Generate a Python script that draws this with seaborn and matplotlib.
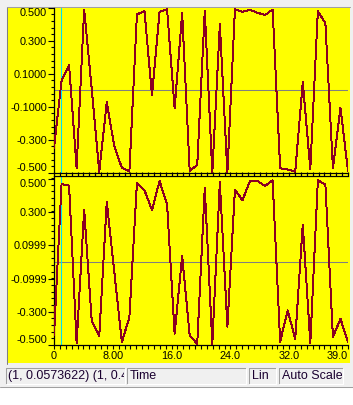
import numpy as np
import pandas as pd
import matplotlib
matplotlib.use("Agg")
import matplotlib.pyplot as plt
import seaborn as sns
from matplotlib.patches import Rectangle
from matplotlib.lines import Line2D
from matplotlib.ticker import FixedLocator, FixedFormatter, NullFormatter

# ---------------- data ----------------
n_samples = 40
time = np.linspace(0, 40, n_samples)
plot1 = [-0.35, 0.0573622, 0.153, -0.47, 0.49, 0.01, -0.493, -0.073, -0.34, -0.47,
         -0.493, 0.46, 0.48, -0.03, 0.476, 0.49, -0.11, 0.467, -0.487, -0.453,
         0.482, -0.50, 0.40, -0.50, 0.49, 0.476, 0.487, 0.47, 0.456, 0.49,
         -0.473, -0.48, -0.493, 0.048, -0.477, 0.48, 0.406, -0.473, -0.105, -0.49]
plot2 = [-0.44, 0.466, 0.458, -0.486, 0.314, -0.35, -0.445, 0.36, -0.06, -0.48,
         -0.33, 0.472, 0.43, 0.31, 0.485, 0.345, -0.43, 0.036, -0.44, -0.49,
         0.445, -0.49, 0.478, -0.387, 0.433, 0.37, 0.485, 0.485, 0.455, 0.489,
         -0.477, -0.29, -0.46, 0.225, -0.486, 0.489, 0.465, -0.45, -0.34, -0.48]
cursor_time = 1

x_major = [0, 8, 16, 24, 32, 40]
x_labels = ["0", "8.00", "16.0", "24.0", "32.0", "39.0"]
y1_ticks = [-0.5, -0.3, -0.1, 0.1, 0.3, 0.5]
y1_labels = ["-0.500", "-0.300", "-0.1000", "0.1000", "0.300", "0.500"]
y2_ticks = [-0.497, -0.2999, -0.0999, 0.0999, 0.2999, 0.4998]
y2_labels = ["-0.500", "-0.300", "-0.0999", "0.0999", "0.300", "0.500"]
status_texts = ["(1, 0.0573622) (1, 0.4", "Time", "Lin", "Auto Scale"]

df = pd.DataFrame({"time": time, "plot1": plot1, "plot2": plot2})

# ---------------- style ----------------
sns.set_style("ticks")
plt.rcParams["font.family"] = ["Liberation Sans", "DejaVu Sans"]

W, H = 353, 405
fig = plt.figure(figsize=(W / 100, H / 100), dpi=100)
fig.patch.set_facecolor("#f0f0f0")


def fx(px):
    return px / W


def fy(py):
    return 1 - py / H


def frect(x0, y0, x1, y1, **kw):
    r = Rectangle((fx(x0), fy(y1)), (x1 - x0) / W, (y1 - y0) / H,
                  transform=fig.transFigure, **kw)
    fig.patches.append(r)
    return r


def fline(xs, ys, **kw):
    fig.lines.append(Line2D([fx(x) for x in xs], [fy(y) for y in ys],
                            transform=fig.transFigure, **kw))


# yellow chart frame
frect(7, 7, 349.5, 363, facecolor="#ffff00", edgecolor="none", zorder=0)
fline([6.5, 6.5], [6.5, 364], color="#808080", lw=0.75)
fline([6.5, 350], [6.5, 6.5], color="#a0a0a0", lw=0.75)

# white area at the very bottom
frect(0, 386.5, W, H, facecolor="white", edgecolor="none", zorder=0)
fline([0, W], [386.5, 386.5], color="#a0a0a0", lw=0.75)

# status bar boxes
boxes = [(6, 125), (127, 246), (249, 276), (279, 343)]
text_x = [8, 130, 252, 282]
for (x0, x1), tx, s in zip(boxes, text_x, status_texts):
    fline([x0, x0, x1], [383.5, 368, 368], color="#a0a0a0", lw=0.75)
    fline([x0, x1, x1], [383.5, 383.5, 368], color="white", lw=0.75)
    t = fig.text(fx(tx), fy(376), s, fontsize=9, color="#1a0030",
                 ha="left", va="center")
    clip = Rectangle((fx(x0 + 1), fy(383)), (x1 - x0 - 2) / W, 15 / H,
                     transform=fig.transFigure, visible=False)
    fig.patches.append(clip)
    t.set_clip_path(clip)

# ---------------- axes ----------------
ax1 = fig.add_axes([fx(54), fy(172.8), (348 - 54) / W, (172.8 - 7.8) / H])
ax2 = fig.add_axes([fx(54), fy(345), (348 - 54) / W, (345 - 176) / H])

line_color = "#8a0022"
for ax, col in ((ax1, "plot1"), (ax2, "plot2")):
    ax.set_zorder(5)
    ax.set_facecolor("#ffff00")
    ax.axhline(0, color="#808080", lw=0.75, zorder=1, snap=True)
    ax.axvline(cursor_time, color="#00e0f8", lw=0.8, zorder=2, snap=True)
    sns.lineplot(data=df, x="time", y=col, ax=ax, color=line_color, lw=0.7,
                 estimator=None, sort=False, legend=False, zorder=3,
                 antialiased=False)
    ax.set_xlabel("")
    ax.set_ylabel("")
    ax.set_xlim(0, 40)
    ax.xaxis.set_major_locator(FixedLocator(x_major))
    ax.xaxis.set_minor_locator(FixedLocator(np.arange(0, 40.01, 0.8)))
    for sp in ax.spines.values():
        sp.set_color("black")
        sp.set_linewidth(0.9)
    ax.spines["right"].set_visible(False)
    ax.tick_params(axis="both", which="major", direction="out", length=4,
                   width=0.8, color="black", labelsize=7.8, pad=1,
                   labelcolor="black")
    ax.tick_params(axis="both", which="minor", direction="out", length=2.5,
                   width=0.8, color="black")

ax1.set_ylim(-0.5, 0.5)
ax1.yaxis.set_major_locator(FixedLocator(y1_ticks))
ax1.yaxis.set_major_formatter(FixedFormatter(y1_labels))
ax1.yaxis.set_minor_locator(FixedLocator(np.arange(-0.5, 0.501, 0.04)))
ax1.spines["top"].set_visible(False)
ax1.xaxis.set_major_formatter(NullFormatter())
ax1.tick_params(axis="x", which="both", labelbottom=False, length=2.5)

ax2.set_ylim(-0.497, 0.515)
ax2.yaxis.set_major_locator(FixedLocator(y2_ticks))
ax2.yaxis.set_major_formatter(FixedFormatter(y2_labels))
ax2.yaxis.set_minor_locator(FixedLocator(np.arange(-0.497, 0.515, 0.04)))
ax2.xaxis.set_major_formatter(FixedFormatter(x_labels))
ax2.tick_params(axis="x", which="both", top=True, bottom=True)
ax2.tick_params(axis="x", which="both", length=3)

for ax in (ax1, ax2):
    ticks = ax.yaxis.get_major_ticks()
    ticks[0].label1.set_va("bottom")
    ticks[-1].label1.set_va("top")
ax2.xaxis.get_major_ticks()[-1].label1.set_ha("right")

fig.savefig("out.png", dpi=100, facecolor=fig.get_facecolor())
